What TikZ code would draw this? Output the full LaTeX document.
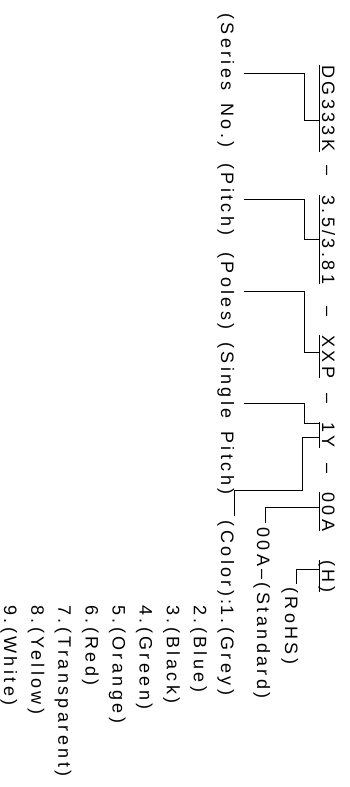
\documentclass[tikz,border=0pt]{standalone}
\usepackage{fontspec}
\setmainfont{Liberation Sans}[LetterSpace=19,WordSpace=1.5]
\usetikzlibrary{calc}

\begin{document}
\begin{tikzpicture}[x=1pt, y=-1pt,
    txt/.style={rotate=-90, inner sep=0pt, anchor=base west, font=\fontsize{18}{21}\selectfont},
    code/.style={txt, inner ysep=2pt, text depth=0pt},
    lbl/.style={txt, outer ysep=10pt},
    link/.style={line width=0.8pt}
]
\useasboundingbox (0,0) rectangle (350,787);

% part number
\node[code] (dg) at (322,65) {DG333K};
\node[code] (d1) at (322,165) {–};
\node[code] (pitch) at (322,195) {3.5/3.81};
\node[code] (d2) at (322,306) {–};
\node[code] (poles) at (322,335) {XXP};
\node[code] (d3) at (322,393) {–};
\node[code] (sp) at (322,422) {1Y};
\node[code] (d4) at (322,463) {–};
\node[code] (col) at (322,492) {00A};
\node[code] (h) at (322,560) {(H)};

\foreach \n in {dg,pitch,poles,sp,col,h}
    \draw[link] (\n.south west) -- (\n.south east);

\coordinate (e1) at ($(dg.south west)!.64!(dg.south east)$);
\coordinate (e2) at ($(pitch.south west)!.5!(pitch.south east)$);
\coordinate (e3) at ($(poles.south west)!.4!(poles.south east)$);
\coordinate (e4) at ($(sp.south west)!.04!(sp.south east)$);
\coordinate (e4b) at ($(sp.south west)!.58!(sp.south east)$);
\coordinate (e5) at ($(col.south west)!.4!(col.south east)$);
\coordinate (e6) at ($(h.south west)!.3!(h.south east)$);

% fields
\node[lbl] (series) at (221,13) {(Series No.)};
\node[lbl] (pitchl) at (221,163) {(Pitch)};
\node[lbl] (polesl) at (221,252) {(Poles)};
\node[lbl] (spl) at (221,342) {(Single Pitch)};

\draw[link] ($(series.north west)!.45!(series.north east)$) -- ++(60,0) |- (e1);
\draw[link] (pitchl.north) -- ++(60,0) |- (e2);
\draw[link] (polesl.north) -- ++(60,0) |- (e3);
\draw[link] ($(spl.north west)!.4!(spl.north east)$) -- ++(60,0) |- (e4);

% options
\node[txt] (rohs) at (285,587) {(RoHS)};
\node[txt] (std) at (257,527) {00A–(Standard)};
\node[lbl, anchor=base east] (color) at (221,605) {(Color):};
\foreach \i/\c in {1/Grey,2/Blue,3/Black,4/Green,5/Orange,6/Red,7/Transparent,8/Yellow,9/White}
    \node[txt] (c\i) at ({221-27.1*(\i-1)},605) {\i.(\c)};

\draw[link] (e6) -| ($(rohs.west)+(7,-3)$);
\draw[link] (e5) -| ($(std.west)+(4,-4)$);
\draw[link] (e4b) -- ++(-17,0) |- ($(color.west)+(9,-30)$) -- ($(color.west)+(9,-5)$);
\end{tikzpicture}
\end{document}
